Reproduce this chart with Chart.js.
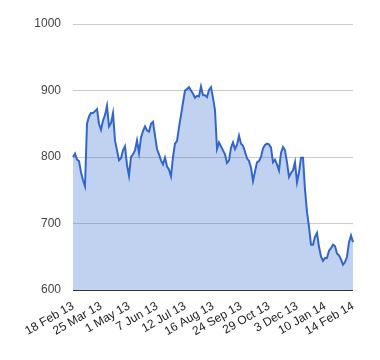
<!DOCTYPE html>
<html>
<head>
<meta charset="utf-8">
<script src="https://cdn.jsdelivr.net/npm/chart.js@4/dist/chart.umd.min.js"></script>
<style>
html,body{margin:0;padding:0;background:#fff;}
#wrap{width:380px;height:360px;position:relative;}
</style>
</head>
<body>
<div id="wrap"><canvas id="c" width="380" height="360"></canvas></div>
<script>
// Tick labels shown on the x axis (every STEP points)
const tickLabels = ["18 Feb 13","25 Mar 13","1 May 13","7 Jun 13","12 Jul 13","16 Aug 13","24 Sep 13","29 Oct 13","3 Dec 13","10 Jan 14","14 Feb 14"];
const STEP = 14;
// Series values
const values = [
800,805,796,794,777,765,756,850,861,866,
866,869,872,850,841,855,863,877,846,851,
866,825,810,795,798,810,816,788,772,800,
804,810,825,806,829,839,846,840,838,850,
853,832,812,804,795,789,799,786,781,771,
800,820,824,845,863,882,900,902,905,900,
895,889,892,891,906,893,893,890,901,905,
889,870,812,822,816,810,804,791,795,814,
822,812,818,832,820,817,808,798,794,784,
764,778,792,794,800,813,818,820,819,814,
792,796,789,780,806,815,810,792,770,776,
780,792,762,777,799,799,751,717,695,668,
668,680,686,665,650,644,648,648,659,663,
668,666,655,652,646,638,642,650,672,682,
672
];
const yTicks = [600,700,800,900,1000];

const categories = values.map((v,i) => (i % STEP === 0) ? tickLabels[i/STEP] : "");

new Chart(document.getElementById('c'), {
  type: 'line',
  data: {
    labels: categories,
    datasets: [{
      data: values,
      borderColor: '#3366cc',
      backgroundColor: 'rgba(51,102,204,0.3)',
      borderWidth: 2,
      fill: 'origin',
      pointRadius: 0,
      tension: 0
    }]
  },
  options: {
    responsive: false,
    animation: false,
    devicePixelRatio: 1,
    layout: { padding: { top: 24, right: 27, bottom: 0, left: 0 } },
    plugins: { legend: { display: false }, tooltip: { enabled: false } },
    scales: {
      x: {
        offset: false,
        grid: { display: false, drawTicks: false },
        border: { display: false },
        ticks: {
          autoSkip: false,
          minRotation: 30, maxRotation: 30,
          color: '#222',
          font: { family: 'Liberation Sans, Arial, sans-serif', size: 12 },
          padding: 9,
          callback: function(val, idx) { return categories[idx]; }
        },
        afterFit: function(s) { s.height = 70; }
      },
      y: {
        min: 600, max: 1000,
        afterBuildTicks: function(s) { s.ticks = yTicks.map(v => ({value: v})); },
        grid: {
          drawTicks: false,
          color: function(ctx) { return ctx.tick && ctx.tick.value === 600 ? '#333' : '#ccc'; },
          lineWidth: 1
        },
        border: { display: false },
        ticks: {
          color: '#444',
          padding: 12,
          font: { family: 'Liberation Sans, Arial, sans-serif', size: 12 },
          callback: function(v) { return String(v); }
        },
        afterFit: function(s) { s.width = 73; }
      }
    }
  }
});
</script>
</body>
</html>
